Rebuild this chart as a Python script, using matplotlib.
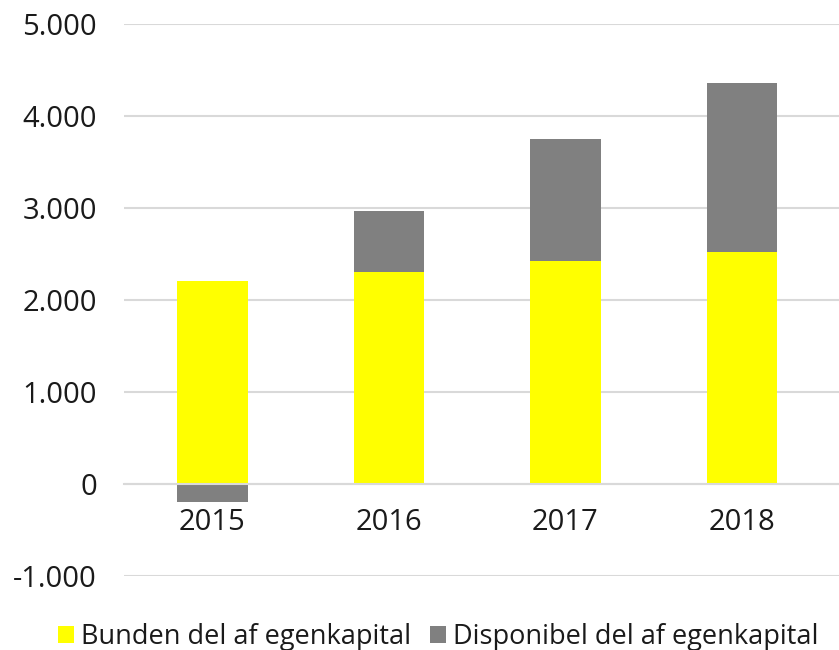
import matplotlib
matplotlib.use("Agg")
import matplotlib.pyplot as plt
from matplotlib.patches import Patch
from matplotlib.ticker import FuncFormatter

years = ["2015", "2016", "2017", "2018"]
bunden = [2210, 2305, 2420, 2520]
disponibel = [-195, 660, 1330, 1840]
series_names = ["Bunden del af egenkapital", "Disponibel del af egenkapital"]
colors = ["#FFFF00", "#808080"]

plt.rcParams['font.family'] = ['Open Sans', 'DejaVu Sans']
fig = plt.figure(figsize=(8.39, 6.5), dpi=100)
ax = fig.add_axes([124/839, 1-576/650, 1-124/839, (576-24)/650])

x = list(range(len(years)))
bottoms = [b if d >= 0 else 0 for b, d in zip(bunden, disponibel)]
ax.bar(x, bunden, width=0.4, color=colors[0], zorder=3)
ax.bar(x, disponibel, width=0.4, bottom=bottoms, color=colors[1], zorder=3)

ax.set_xlim(-0.5, 3.5 + 0.05)
ax.set_ylim(-1000, 5000)
ax.set_yticks(range(-1000, 5001, 1000))
ax.yaxis.set_major_formatter(FuncFormatter(lambda v, p: f"{int(v):,}".replace(",", ".")))
ax.grid(axis='y', color='#D9D9D9', linewidth=1.5, zorder=0)
ax.set_axisbelow(True)
for s in ['top', 'right', 'left']:
    ax.spines[s].set_visible(False)
ax.spines['bottom'].set_position(('data', 0))
ax.spines['bottom'].set_color('#D9D9D9')
ax.spines['bottom'].set_linewidth(1.5)
ax.spines['bottom'].set_zorder(4)
ax.set_xticks(x)
ax.set_xticklabels(years)
ax.tick_params(axis='x', length=0, pad=17.5, labelsize=21, labelcolor='#1a1a1a')
ax.tick_params(axis='y', length=0, pad=19.5, labelsize=21, labelcolor='#1a1a1a')

handles = [Patch(facecolor=c, edgecolor='none') for c in colors]
fig.legend(handles, series_names, loc='center', bbox_to_anchor=(0.522, 1-637/650),
           ncol=2, frameon=False, fontsize=19.5, handlelength=0.6, handleheight=0.6,
           handletextpad=0.25, columnspacing=0.7, labelcolor='#1a1a1a')

fig.savefig("out.png", dpi=100)
